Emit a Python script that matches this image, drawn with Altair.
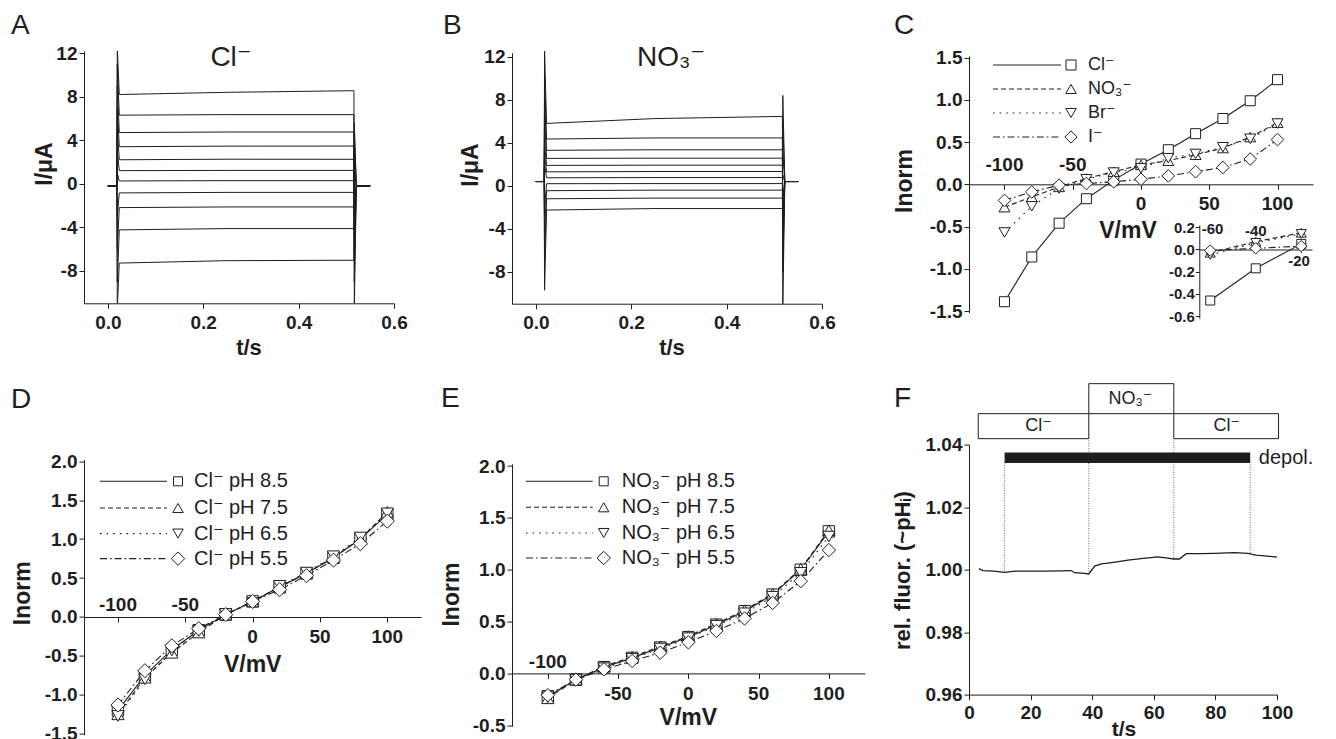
import altair as alt
import pandas as pd

FONT = "Liberation Sans, Arial, DejaVu Sans"
INK = "#1e1e1e"
TICK_FS = 19

# ---------------- Panel A: Cl- current traces (I / uA vs t / s) ----------------
A_START = [8.2, 6.3, 4.7, 3.4, 2.2, 1.2, 0.25, -0.85, -2.2, -4.25, -7.3]
A_MID = [8.4, 6.35, 4.75, 3.45, 2.25, 1.22, 0.28, -0.8, -2.14, -4.13, -7.08]
A_END = [8.55, 6.35, 4.75, 3.46, 2.24, 1.22, 0.28, -0.8, -2.14, -4.13, -7.04]
A_ON_SPIKE = [12.6, 11.0, 9.0, 7.0, 5.0, 3.0, 1.0, -3.0, -6.0, -9.0, -11.5]
A_OFF_SPIKE = [-11.5, -9.0, -7.0, -5.0, -3.0, -1.5, 0.0, 1.5, 3.0, 4.5, 5.6]
A_HOLD = -0.2
A_TIMES = [0.0, 0.019, 0.516, 0.55]

# ---------------- Panel B: NO3- current traces ----------------
B_START = [5.8, 4.35, 3.3, 2.55, 1.9, 1.3, 0.75, 0.2, -0.45, -1.2, -2.25]
B_MID = [6.25, 4.45, 3.35, 2.57, 1.92, 1.33, 0.77, 0.21, -0.4, -1.14, -2.11]
B_END = [6.45, 4.45, 3.35, 2.57, 1.92, 1.33, 0.77, 0.21, -0.4, -1.14, -2.11]
B_ON_SPIKE = [12.6, 10.0, 8.0, 6.0, 4.0, 3.0, 2.0, -2.0, -4.0, -7.0, -9.7]
B_OFF_SPIKE = [-11.5, -8.0, -6.0, -4.0, -3.0, -2.0, -1.0, 1.0, 3.0, 6.0, 8.4]
B_HOLD = 0.4
B_TIMES = [0.0, 0.0175, 0.517, 0.55]

# ---------------- Panel C: I-V for anions ----------------
V = [-100, -80, -60, -40, -20, 0, 20, 40, 60, 80, 100]
C_NAMES = ["Cl⁻", "NO₃⁻", "Br⁻", "I⁻"]
C_CL = [-1.39, -0.86, -0.46, -0.17, 0.05, 0.24, 0.41, 0.60, 0.78, 0.99, 1.24]
C_NO3 = [-0.27, -0.15, -0.03, 0.07, 0.15, 0.23, 0.28, 0.35, 0.43, 0.56, 0.73]
C_BR = [-0.57, -0.26, -0.05, 0.06, 0.14, 0.19, 0.31, 0.36, 0.44, 0.54, 0.72]
C_I = [-0.19, -0.09, -0.01, 0.01, 0.03, 0.06, 0.10, 0.15, 0.20, 0.30, 0.53]

# ---------------- Panel D: Cl- at different pH ----------------
D_NAMES = ["Cl⁻ pH 8.5", "Cl⁻ pH 7.5", "Cl⁻ pH 6.5", "Cl⁻ pH 5.5"]
D_85 = [-1.20, -0.75, -0.42, -0.17, 0.03, 0.20, 0.38, 0.56, 0.76, 1.00, 1.32]
D_75 = [-1.25, -0.78, -0.46, -0.20, 0.03, 0.20, 0.39, 0.56, 0.77, 1.00, 1.35]
D_65 = [-1.27, -0.80, -0.43, -0.18, 0.04, 0.18, 0.40, 0.57, 0.78, 1.02, 1.33]
D_55 = [-1.13, -0.69, -0.37, -0.15, 0.03, 0.20, 0.35, 0.53, 0.73, 0.94, 1.23]

# ---------------- Panel E: NO3- at different pH ----------------
E_NAMES = ["NO₃⁻ pH 8.5", "NO₃⁻ pH 7.5", "NO₃⁻ pH 6.5", "NO₃⁻ pH 5.5"]
E_85 = [-0.22, -0.06, 0.06, 0.15, 0.25, 0.35, 0.47, 0.60, 0.76, 1.00, 1.37]
E_75 = [-0.24, -0.06, 0.07, 0.16, 0.26, 0.36, 0.48, 0.61, 0.77, 1.01, 1.38]
E_65 = [-0.23, -0.06, 0.05, 0.14, 0.24, 0.34, 0.46, 0.58, 0.74, 0.97, 1.32]
E_55 = [-0.21, -0.06, 0.04, 0.12, 0.20, 0.30, 0.41, 0.53, 0.68, 0.89, 1.19]

# ---------------- Panel F: relative fluorescence ----------------
F_T = [3.2, 4.5, 8, 11.6, 15, 20, 25, 30, 33.2, 34.3, 37.5, 38.9, 40.8, 43, 45.1, 48,
       51.6, 55.9, 61.3, 64.5, 66.4, 68.3, 70.5, 75.4, 79.7, 86.2, 90.5, 93.2, 95.9, 100]
F_V = [1.0003, 0.9997, 0.9995, 0.9991, 0.9995, 0.9995, 0.9995, 0.9996, 0.9997, 0.9990,
       0.9988, 0.9986, 1.0011, 1.0018, 1.0021, 1.0025, 1.0030, 1.0035, 1.0041, 1.0037,
       1.0034, 1.0034, 1.0051, 1.0051, 1.0052, 1.0054, 1.0052, 1.0046, 1.0044, 1.0040]
F_BOX_LABELS = ["Cl⁻", "NO₃⁻", "Cl⁻"]
F_BOX_T0 = [3.0, 38.9, 66.5]
F_BOX_T1 = [38.9, 66.5, 100.5]
F_BOX_Y0 = [1.0419, 1.0499, 1.0419]
F_BOX_Y1 = [1.0499, 1.0595, 1.0499]
F_BOX_TEXT_T = [22.6, 52.4, 83.7]
F_DEPOL_T = [11.55, 91.3]
F_DEPOL_Y = [1.0341, 1.0375]
F_MARK_T = [11.55, 38.9, 66.5, 91.3]
F_MARK_TOP = [1.0341, 1.0419, 1.0419, 1.0341]
F_MARK_BOTTOM = [0.9995, 0.9994, 1.0037, 1.0053]

STYLES = [
    (None, "square"),
    ([5, 3], "triangle-up"),
    ([1.6, 5], "triangle-down"),
    ([7, 3, 1.6, 3], "diamond"),
]


def sc(domain, rng):
    return alt.Scale(domain=domain, range=rng, nice=False, zero=False)


def make_axis(values, fmt=None, orient=None, offset=None, size=TICK_FS, pad=3, tick=5, labels=True):
    kw = dict(values=values, title=None, grid=False, domainColor=INK, domainWidth=1,
              tickColor=INK, tickWidth=1, tickSize=tick, labels=labels, labelFont=FONT,
              labelFontSize=size, labelFontWeight="bold", labelColor=INK, labelPadding=pad,
              labelFlush=False, labelOverlap=False,
              labelExpr="replace(datum.label, '\u2212', '-')")
    if fmt:
        kw["format"] = fmt
    if orient:
        kw["orient"] = orient
    if offset is not None:
        kw["offset"] = offset
    return alt.Axis(**kw)


def txt(s, x, y, size, weight="normal", angle=0, align="center"):
    return alt.Chart(pd.DataFrame({"s": [s]})).mark_text(
        font=FONT, fontSize=size, fontWeight=weight, angle=angle, align=align,
        baseline="middle", color=INK).encode(x=alt.value(x), y=alt.value(y), text="s:N")


def trace_frame(start, mid, end, on_spk, off_spk, hold, times):
    t0, t_on, t_off, t_end = times
    rows = []
    for k in range(len(start)):
        seq = [(t0, hold), (t_on, hold), (t_on + 0.0008, on_spk[k]), (t_on + 0.005, start[k]),
               (0.25, mid[k]), (t_off, end[k]), (t_off + 0.0008, off_spk[k]),
               (t_off + 0.005, hold), (t_end, hold)]
        for j, (t, v) in enumerate(seq):
            rows.append({"trace": k, "o": j, "t": t, "i": v})
    return pd.DataFrame(rows)


def trace_panel(df, sx, sy, letter, lpos, title, tpos, ypos, xpos, width, height):
    lines = alt.Chart(df).mark_line(color=INK, strokeWidth=1, clip=True).encode(
        x=alt.X("t:Q", scale=sx, axis=make_axis([0, 0.2, 0.4, 0.6], ".1f", pad=5)),
        y=alt.Y("i:Q", scale=sy, axis=make_axis([-8, -4, 0, 4, 8, 12], pad=2)),
        detail="trace:N", order="o:Q")
    return alt.layer(
        lines,
        txt(letter, lpos[0], lpos[1], 28, align="left"),
        txt(title, tpos[0], tpos[1], 28),
        txt("I/μA", ypos[0], ypos[1], 23, "bold", 270),
        txt("t/s", xpos[0], xpos[1], 22, "bold"),
    ).properties(width=width, height=height)


def series_layers(vs, series, sx, sy, xaxis, yaxis, sizes, stroke_w=1.1):
    lines, pts = [], []
    for idx, vals in enumerate(series):
        dash, shape = STYLES[idx]
        df = pd.DataFrame({"v": vs, "y": vals})
        lkw = dict(color=INK, strokeWidth=stroke_w)
        if dash:
            lkw["strokeDash"] = dash
        lines.append(alt.Chart(df).mark_line(**lkw).encode(
            x=alt.X("v:Q", scale=sx, axis=xaxis),
            y=alt.Y("y:Q", scale=sy, axis=yaxis)))
        pts.append(alt.Chart(df).mark_point(
            shape=shape, size=sizes[idx], filled=True, fill="white", stroke=INK,
            strokeWidth=1, opacity=1).encode(
            x=alt.X("v:Q", scale=sx, axis=xaxis), y=alt.Y("y:Q", scale=sy, axis=yaxis)))
    return lines + pts


def tick_labels(vals, sx, sy, xaxis, yaxis, dy):
    df = pd.DataFrame({"v": vals, "y": [0] * len(vals), "s": [str(v) for v in vals]})
    return alt.Chart(df).mark_text(font=FONT, fontSize=TICK_FS, fontWeight="bold", color=INK,
                                   baseline="middle", dy=dy).encode(
        x=alt.X("v:Q", scale=sx, axis=xaxis), y=alt.Y("y:Q", scale=sy, axis=yaxis), text="s:N")


def legend_layers(names, rows_y, x1, x2, xm, xt, fs, msizes):
    out = []
    for idx, name in enumerate(names):
        dash, shape = STYLES[idx]
        rkw = dict(color=INK, strokeWidth=1.1)
        if dash:
            rkw["strokeDash"] = dash
        out.append(alt.Chart(pd.DataFrame({"a": [0]})).mark_rule(**rkw).encode(
            x=alt.value(x1), x2=alt.value(x2), y=alt.value(rows_y[idx])))
        out.append(alt.Chart(pd.DataFrame({"a": [0]})).mark_point(
            shape=shape, size=msizes[idx], filled=True, fill="white", stroke=INK,
            strokeWidth=1, opacity=1).encode(x=alt.value(xm), y=alt.value(rows_y[idx])))
        out.append(txt(name, xt, rows_y[idx], fs, align="left"))
    return out


# ---------- A ----------
sxA = sc([-0.05, 0.6], [0, 310])
syA = sc([-11, 12.2], [252.3, 0])
dfA = trace_frame(A_START, A_MID, A_END, A_ON_SPIKE, A_OFF_SPIKE, A_HOLD, A_TIMES)
panelA = trace_panel(dfA, sxA, syA, "A", (-73, -25), "Cl⁻", (147, 7), (-39, 113), (165, 297), 418, 252.3)

# ---------- B ----------
sxB = sc([-0.05, 0.6], [0, 310])
syB = sc([-10.95, 12.37], [252.7, 1.7])
dfB = trace_frame(B_START, B_MID, B_END, B_ON_SPIKE, B_OFF_SPIKE, B_HOLD, B_TIMES)
panelB = trace_panel(dfB, sxB, syB, "B", (-69, -25), "NO₃⁻", (159, 7), (-41, 114), (160, 297), 447, 252.7)

# ---------- C ----------
sxC = sc([-126, 126], [0, 344])
syC = sc([-1.52, 1.52], [261.7, 5])
axCx = make_axis([-100, -50, 0, 50, 100], orient="bottom", offset=-128.4, labels=False)
axCy = make_axis([-1.5, -1.0, -0.5, 0.0, 0.5, 1.0, 1.5], ".1f", orient="left", pad=2)
C_SERIES = [C_CL, C_NO3, C_BR, C_I]
c_main = series_layers(V, C_SERIES, sxC, syC, axCx, axCy, [100, 120, 120, 160])
c_main += [tick_labels([-100, -50], sxC, syC, axCx, axCy, -19),
           tick_labels([0, 50, 100], sxC, syC, axCx, axCy, 19.5)]
c_main += legend_layers(C_NAMES, [14, 38, 62, 86], 24, 92, 102, 119, 18, [100, 110, 110, 150])
c_main += [txt("C", -75, -25, 28, align="left"), txt("V/mV", 159, 180, 23, "bold"),
           txt("Inorm", -64, 130, 23, "bold", 270)]

sxI = sc([-64.8, -15.3], [230.3, 343])
syI = sc([-0.62, 0.22], [267.3, 174])
axIx = make_axis([-60, -40, -20], orient="bottom", offset=-63.2, labels=False, tick=3)
axIy = make_axis([-0.6, -0.4, -0.2, 0.0, 0.2], ".1f", orient="left", offset=-230.3, size=15, pad=1, tick=4)
V_IN = [v for v in V if -60 <= v <= -20]
idx_in = [V.index(v) for v in V_IN]
c_inset = series_layers(V_IN, [[s[i] for i in idx_in] for s in C_SERIES], sxI, syI,
                        axIx, axIy, [81, 100, 100, 130])
inset_lab = pd.DataFrame({"v": [-59, -40, -21], "y": [0.18, 0.17, -0.105], "s": ["-60", "-40", "-20"]})
c_inset.append(alt.Chart(inset_lab).mark_text(font=FONT, fontSize=15, fontWeight="bold", color=INK,
                                              baseline="middle").encode(
    x=alt.X("v:Q", scale=sxI, axis=axIx), y=alt.Y("y:Q", scale=syI, axis=axIy), text="s:N"))

panelC = alt.layer(alt.layer(*c_main), alt.layer(*c_inset)).resolve_scale(
    x="independent", y="independent").resolve_axis(x="independent", y="independent").properties(
    width=344, height=261.7)

# ---------- D ----------
sxD = sc([-125, 125], [0.3, 337])
syD = sc([-1.51, 2.02], [290, 15])
axDx = make_axis([-100, -50, 0, 50, 100], orient="bottom", offset=-117.6, labels=False)
axDy = make_axis([-1.5, -1.0, -0.5, 0.0, 0.5, 1.0, 1.5, 2.0], ".1f", orient="left", pad=2)
d_layers = series_layers(V, [D_85, D_75, D_65, D_55], sxD, syD, axDx, axDy, [130, 150, 150, 200])
d_layers += [tick_labels([-100, -50], sxD, syD, axDx, axDy, -11.7),
             tick_labels([0, 50, 100], sxD, syD, axDx, axDy, 20)]
d_layers += legend_layers(D_NAMES, [36.7, 63.4, 89, 114], 16, 83, 94, 110, 20, [81, 110, 110, 180])
d_layers += [txt("D", -73, -44.3, 28, align="left"), txt("V/mV", 168.7, 220, 23, "bold"),
             txt("Inorm", -61, 148.7, 23, "bold", 270)]
panelD = alt.layer(*d_layers).properties(width=418, height=290)

# ---------- E ----------
sxE = sc([-125.5, 125.7], [0, 353])
syE = sc([-0.51, 2.02], [281.7, 19.4])
axEx = make_axis([-100, -50, 0, 50, 100], orient="bottom", offset=-52.9, labels=False)
axEy = make_axis([-0.5, 0.0, 0.5, 1.0, 1.5, 2.0], ".1f", orient="left", pad=2)
e_layers = series_layers(V, [E_85, E_75, E_65, E_55], sxE, syE, axEx, axEy, [130, 150, 150, 180])
e_layers += [tick_labels([-100], sxE, syE, axEx, axEy, -11.3),
             tick_labels([-50, 0, 50, 100], sxE, syE, axEx, axEy, 20.4)]
e_layers += legend_layers(E_NAMES, [36.7, 62.7, 88.4, 113.4], 14, 80.7, 91.7, 109.7, 20, [81, 110, 110, 180])
e_layers += [txt("E", -71, -45.3, 28, align="left"), txt("V/mV", 176.3, 273.4, 23, "bold"),
             txt("Inorm", -60, 150, 23, "bold", 270)]
panelE = alt.layer(*e_layers).properties(width=447, height=281.7)

# ---------- F ----------
sxF = sc([0, 100], [0, 308])
syF = sc([0.96, 1.04], [250, 0])
axFx = make_axis([0, 20, 40, 60, 80, 100], pad=4)
axFy = make_axis([0.96, 0.98, 1.0, 1.02, 1.04], ".2f", pad=2)
dfF = pd.DataFrame({"t": F_T, "v": F_V})
boxes = pd.DataFrame({"t0": F_BOX_T0, "t1": F_BOX_T1, "y0": F_BOX_Y0, "y1": F_BOX_Y1})
box_txt = pd.DataFrame({"t": F_BOX_TEXT_T, "y": [(a + b) / 2 for a, b in zip(F_BOX_Y0, F_BOX_Y1)],
                        "s": F_BOX_LABELS})
bar = pd.DataFrame({"t0": [F_DEPOL_T[0]], "t1": [F_DEPOL_T[1]], "y0": [F_DEPOL_Y[0]], "y1": [F_DEPOL_Y[1]]})
marks = pd.DataFrame({"t": F_MARK_T, "y0": F_MARK_BOTTOM, "y1": F_MARK_TOP})
depol = pd.DataFrame({"t": [F_DEPOL_T[1] + 2.8], "y": [sum(F_DEPOL_Y) / 2], "s": ["depol."]})

f_line = alt.Chart(dfF).mark_line(color=INK, strokeWidth=1.3).encode(
    x=alt.X("t:Q", scale=sxF, axis=axFx), y=alt.Y("v:Q", scale=syF, axis=axFy))
f_boxes = alt.Chart(boxes).mark_rect(fill="white", stroke=INK, strokeWidth=1).encode(
    x=alt.X("t0:Q", scale=sxF, axis=axFx), x2="t1:Q",
    y=alt.Y("y0:Q", scale=syF, axis=axFy), y2="y1:Q")
f_bar = alt.Chart(bar).mark_rect(fill=INK).encode(
    x=alt.X("t0:Q", scale=sxF, axis=axFx), x2="t1:Q",
    y=alt.Y("y0:Q", scale=syF, axis=axFy), y2="y1:Q")
f_marks = alt.Chart(marks).mark_rule(color="#444444", strokeWidth=0.8, strokeDash=[1, 1.5]).encode(
    x=alt.X("t:Q", scale=sxF, axis=axFx), y=alt.Y("y0:Q", scale=syF, axis=axFy), y2="y1:Q")
f_box_txt = alt.Chart(box_txt).mark_text(font=FONT, fontSize=18, color=INK, baseline="middle").encode(
    x=alt.X("t:Q", scale=sxF, axis=axFx), y=alt.Y("y:Q", scale=syF, axis=axFy), text="s:N")
f_depol = alt.Chart(depol).mark_text(font=FONT, fontSize=20, color=INK, baseline="middle", align="left").encode(
    x=alt.X("t:Q", scale=sxF, axis=axFx), y=alt.Y("y:Q", scale=syF, axis=axFy), text="s:N")
panelF = alt.layer(
    f_line, f_marks, f_boxes, f_bar, f_box_txt, f_depol,
    txt("F", -75, -45.8, 28, align="left"),
    txt("t/s", 155, 285, 21, "bold"),
    txt("rel. fluor. (~pHᵢ)", -66, 126, 22, "bold", 270),
).properties(width=344, height=250)

chart = alt.concat(
    panelA, panelB, panelC, panelD, panelE, panelF,
    columns=3, spacing={"row": 131.6, "column": 10}, bounds="flush", align="each",
).configure_view(stroke="transparent").properties(
    padding={"left": 2, "top": 3, "right": 2, "bottom": 2})

chart.save("out.html", embed_options={"renderer": "svg", "actions": False})
